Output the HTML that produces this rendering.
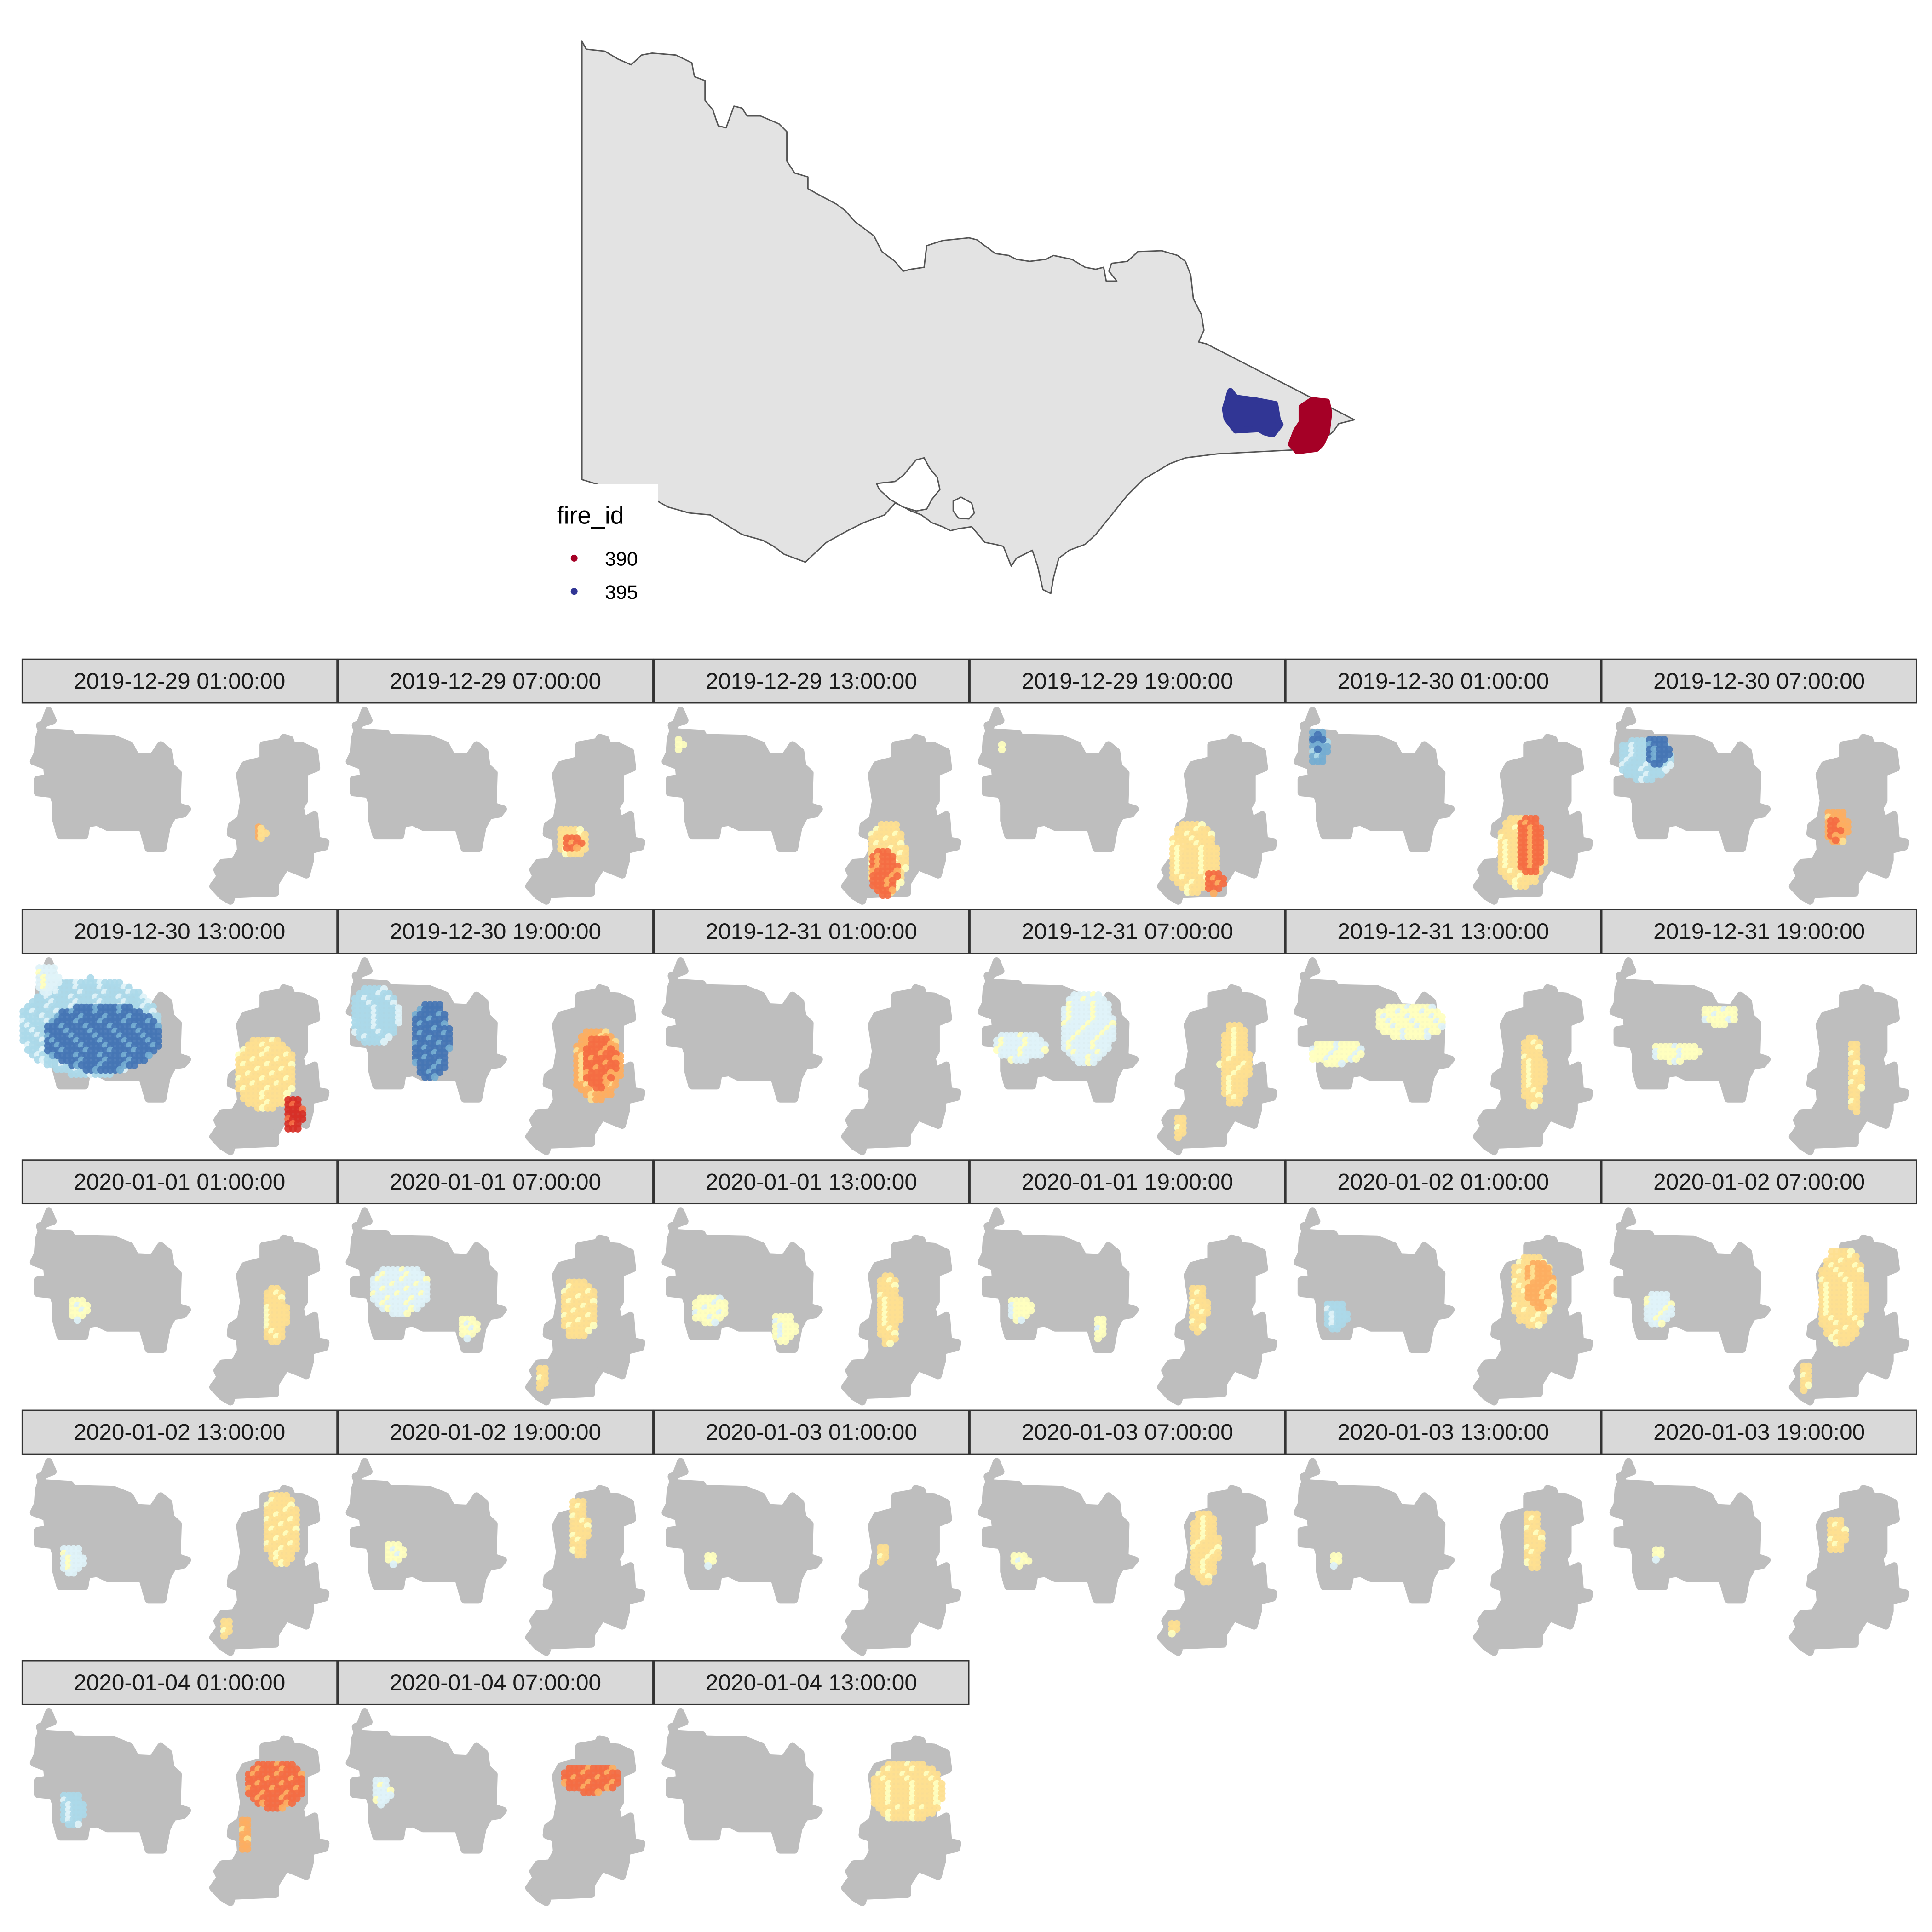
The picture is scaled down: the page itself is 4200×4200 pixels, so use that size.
<!DOCTYPE html>
<html><head><meta charset="utf-8">
<style>
html,body{margin:0;padding:0;background:#fff;}
svg{display:block;font-family:"Liberation Sans",Arial,sans-serif;}
</style></head>
<body>
<svg id="chart" width="4200" height="4200" viewBox="0 0 1568 1568" xmlns="http://www.w3.org/2000/svg">
<rect x="0" y="0" width="1568" height="1568" fill="#fff"/>
<g id="map"></g>
<g id="legend">
<rect x="450" y="393" width="84" height="100" fill="#fff"/>
<text x="452" y="425" font-size="20" fill="#000">fire_id</text>
<circle cx="466" cy="453" r="2.8" fill="#A50026"/>
<text x="491" y="459" font-size="16" fill="#000">390</text>
<circle cx="466" cy="480" r="2.8" fill="#313695"/>
<text x="491" y="486" font-size="16" fill="#000">395</text>
</g>
<g id="facets"></g>
</svg>
<script>
// ---- data ----
const panelLabels = ["2019-12-29 01:00:00","2019-12-29 07:00:00","2019-12-29 13:00:00","2019-12-29 19:00:00","2019-12-30 01:00:00","2019-12-30 07:00:00",
"2019-12-30 13:00:00","2019-12-30 19:00:00","2019-12-31 01:00:00","2019-12-31 07:00:00","2019-12-31 13:00:00","2019-12-31 19:00:00",
"2020-01-01 01:00:00","2020-01-01 07:00:00","2020-01-01 13:00:00","2020-01-01 19:00:00","2020-01-02 01:00:00","2020-01-02 07:00:00",
"2020-01-02 13:00:00","2020-01-02 19:00:00","2020-01-03 01:00:00","2020-01-03 07:00:00","2020-01-03 13:00:00","2020-01-03 19:00:00",
"2020-01-04 01:00:00","2020-01-04 07:00:00","2020-01-04 13:00:00"];
const palette = ["#D73027","#F46D43","#FDAE61","#FEE090","#FFFFBF","#E0F3F8","#ABD9E9","#74ADD1","#4575B4"];
// hotspot clusters: [panel, cx, cy, rx, ry, colourIndex]
const clusters = [
[0,192,103,4,6,2],[0,194,104,4,6,3],
[1,190,112,13,13,3],[1,190,113,8,7,1],
[2,20,33,4,7,4],[2,189,125,16,30,3],[2,186,137,12,20,1],
[3,25,35,3,5,4],[3,181,125,20,30,3],[3,198,145,8,10,1],
[4,26,35,8,15,7],[4,26,30,4,8,8],[4,191,120,20,30,3],[4,198,115,11,25,1],
[5,35,45,22,18,6],[5,45,38,10,12,8],[5,190,100,10,15,2],[5,188,102,6,10,1],
[6,55,60,58,40,6],[6,65,68,48,28,8],[6,20,20,10,12,5],[6,197,97,25,30,3],[6,220,130,8,15,0],
[7,30,50,20,25,6],[7,75,70,16,32,8],[7,210,90,20,30,2],[7,212,88,14,22,1],
[9,95,60,22,30,5],[9,40,75,22,12,5],[9,215,90,12,35,3],[9,170,140,5,10,3],
[10,100,55,28,15,4],[10,40,80,22,10,4],[10,200,95,10,30,3],
[11,95,50,15,8,4],[11,60,80,20,8,4],[11,205,100,6,30,3],
[12,45,85,8,10,4],[12,205,90,10,25,3],
[13,50,70,25,20,5],[13,105,100,8,10,4],[13,195,85,15,25,3],[13,165,140,5,10,3],
[14,45,85,15,12,4],[14,105,100,10,12,4],[14,190,85,10,30,3],
[15,40,85,10,10,4],[15,105,100,5,10,4],[15,185,85,8,20,3],
[16,40,90,10,12,6],[16,200,70,18,30,3],[16,205,65,12,20,2],
[17,45,85,12,15,5],[17,195,75,20,40,3],[17,165,140,5,12,3],
[18,40,85,10,12,5],[18,210,60,15,30,3],[18,165,140,5,8,3],
[19,45,80,8,10,4],[19,195,60,8,25,3],
[20,45,85,5,6,4],[20,185,80,5,8,3],
[21,40,85,8,6,4],[21,190,75,12,30,3],[21,165,140,5,6,3],
[22,40,85,5,6,4],[22,200,70,8,25,3],
[23,45,80,5,6,4],[23,190,65,8,15,3],
[24,40,85,10,15,6],[24,205,65,25,20,1],[24,180,105,5,15,2],
[25,35,70,8,12,5],[25,205,60,25,12,1],
[26,205,70,30,25,3]
];
// ---- drawing ----
const NS="http://www.w3.org/2000/svg";
function mk(tag,attrs,parent){const e=document.createElementNS(NS,tag);for(const k in attrs)e.setAttribute(k,attrs[k]);parent.appendChild(e);return e;}
const mapOutline=[[57,105],[65,125],[100,130],[125,150],[150,165],[170,140],[190,135],[235,140],[265,160],[270,195],[290,205],[290,255],[305,280],[315,320],[330,325],[345,270],[360,275],[370,295],[395,295],[430,315],[445,335],[445,410],[460,440],[485,450],[485,480],[505,495],[540,520],[555,535],[575,565],[595,585],[610,600],[625,640],[650,665],[665,690],[680,685],[705,680],[710,625],[740,612],[790,605],[805,610],[840,645],[865,650],[880,660],[905,665],[935,660],[950,650],[985,660],[1010,680],[1030,685],[1045,680],[1050,715],[1070,715],[1055,690],[1060,670],[1090,665],[1110,640],[1155,638],[1185,650],[1200,665],[1210,700],[1215,760],[1230,800],[1235,840],[1225,870],[1240,875],[1520,1068],[1490,1078],[1480,1098],[1440,1140],[1400,1145],[1260,1155],[1200,1165],[1170,1180],[1120,1220],[1090,1260],[1060,1310],[1030,1360],[1010,1385],[980,1400],[960,1420],[950,1470],[945,1510],[930,1500],[920,1440],[910,1400],[880,1420],[870,1440],[855,1390],[840,1385],[820,1380],[795,1340],[770,1345],[755,1350],[740,1340],[720,1330],[700,1310],[680,1300],[660,1285],[650,1280],[630,1310],[590,1330],[560,1350],[520,1380],[480,1430],[440,1410],[420,1390],[400,1375],[360,1360],[300,1310],[260,1305],[220,1290],[200,1275],[130,1250],[57,1220]];
const bay=[[640,1270],[620,1245],[615,1230],[650,1225],[665,1210],[690,1170],[705,1165],[715,1190],[730,1215],[735,1245],[720,1270],[710,1295],[690,1300],[665,1290]];
const wport=[[760,1275],[775,1265],[795,1280],[800,1305],[790,1320],[770,1318],[760,1300]];
const blueFire=[[1285,995],[1295,1012],[1330,1018],[1370,1028],[1375,1070],[1380,1080],[1365,1105],[1350,1100],[1340,1092],[1295,1095],[1278,1065],[1275,1040]];
const redFire=[[1440,1018],[1468,1022],[1472,1050],[1468,1100],[1458,1128],[1448,1142],[1412,1148],[1400,1130],[1410,1095],[1420,1075],[1420,1035]];
function mp(pts){return pts.map(p=>(447.9+p[0]*0.4285).toFixed(1)+","+(p[1]*0.319).toFixed(1)).join(" ");}
const map=document.getElementById('map');
const st=mk('polygon',{points:mp(mapOutline),fill:"#E3E3E3",stroke:"#555",'stroke-width':1.1,'stroke-linejoin':'round'},map);


const b=mk('polygon',{points:mp(bay),fill:"#fff",stroke:"#555",'stroke-width':1.1},map);


const w=mk('polygon',{points:mp(wport),fill:"#fff",stroke:"#555",'stroke-width':1.1},map);


const bf=mk('polygon',{points:mp(blueFire),fill:"#313695",stroke:"#313695",'stroke-width':5,'stroke-linejoin':'round'},map);


const rf=mk('polygon',{points:mp(redFire),fill:"#A50026",stroke:"#A50026",'stroke-width':5,'stroke-linejoin':'round'},map);



const leftBlob=[[145,350],[165,410],[100,440],[110,480],[250,490],[260,515],[460,520],[540,560],[570,630],[650,635],[690,560],[730,600],[740,690],[775,730],[770,930],[820,950],[800,980],[750,990],[720,1060],[700,1190],[630,1190],[600,1060],[430,1060],[380,1030],[330,1040],[320,1110],[200,1110],[180,1020],[180,920],[165,860],[90,850],[90,770],[140,760],[135,690],[70,660],[90,610],[95,520]];
const rightBlob=[[1290,515],[1320,525],[1330,560],[1380,565],[1440,600],[1450,700],[1390,730],[1390,900],[1370,940],[1385,1020],[1440,985],[1450,1140],[1495,1150],[1490,1180],[1420,1200],[1420,1260],[1400,1350],[1300,1300],[1250,1400],[1250,1460],[1040,1470],[1030,1510],[990,1480],[945,1420],[980,1360],[965,1320],[990,1275],[1050,1270],[1080,1200],[1075,1120],[1030,1100],[1035,1050],[1080,1010],[1095,900],[1075,740],[1100,680],[1190,650],[1190,560],[1280,540]];
function bp(pts,x0,y0){return pts.map(p=>(x0-2.5+p[0]*0.1665).toFixed(1)+","+(y0-40.5+p[1]*0.1333).toFixed(1)).join(" ");}
const facets=document.getElementById('facets');
const colW=256.4,rowH=203.2;
panelLabels.forEach((lab,i)=>{
  const c=i%6,r=Math.floor(i/6);
  const x0=18+c*colW, top=535+r*rowH, y0=top+35.5;
  const g=mk('g',{},facets);
  
  
  const s=mk('rect',{x:x0,y:top,width:255.5,height:35.5,fill:"#D9D9D9",stroke:"#333",'stroke-width':1},g);
  
  
  const t=mk('text',{x:x0+127.7,y:top+24,'font-size':18.5,'text-anchor':'middle',fill:"#1a1a1a"},g);
  t.textContent=lab;
  
  
  const l=mk('polygon',{points:bp(leftBlob,x0,y0),fill:"#BEBEBE",stroke:"#BEBEBE",'stroke-width':6,'stroke-linejoin':'round'},g);
  
  
  const rb=mk('polygon',{points:bp(rightBlob,x0,y0),fill:"#BEBEBE",stroke:"#BEBEBE",'stroke-width':6,'stroke-linejoin':'round'},g);
  
  
  clusters.filter(k=>k[0]===i).forEach(k=>{
    const [,cx,cy,rx,ry,ci]=k;
    const sp=3.9;
    const alt = ci<4 ? ci+1 : (ci===4 ? 5 : ci-1);
    let n=0;
    for(let dy=-ry;dy<=ry;dy+=sp){for(let dx=-rx;dx<=rx;dx+=sp){
      if((dx*dx)/(rx*rx+0.01)+(dy*dy)/(ry*ry+0.01)>1.0001)continue;
      n++;
      const col = (n%5===0) ? palette[alt] : palette[ci];
      const d=mk('circle',{cx:(x0+cx+dx).toFixed(1),cy:(y0+cy+dy).toFixed(1),r:3.1,fill:col,'fill-opacity':0.92},g);
      
      
    }}
  });
});
</script>
</body></html>
